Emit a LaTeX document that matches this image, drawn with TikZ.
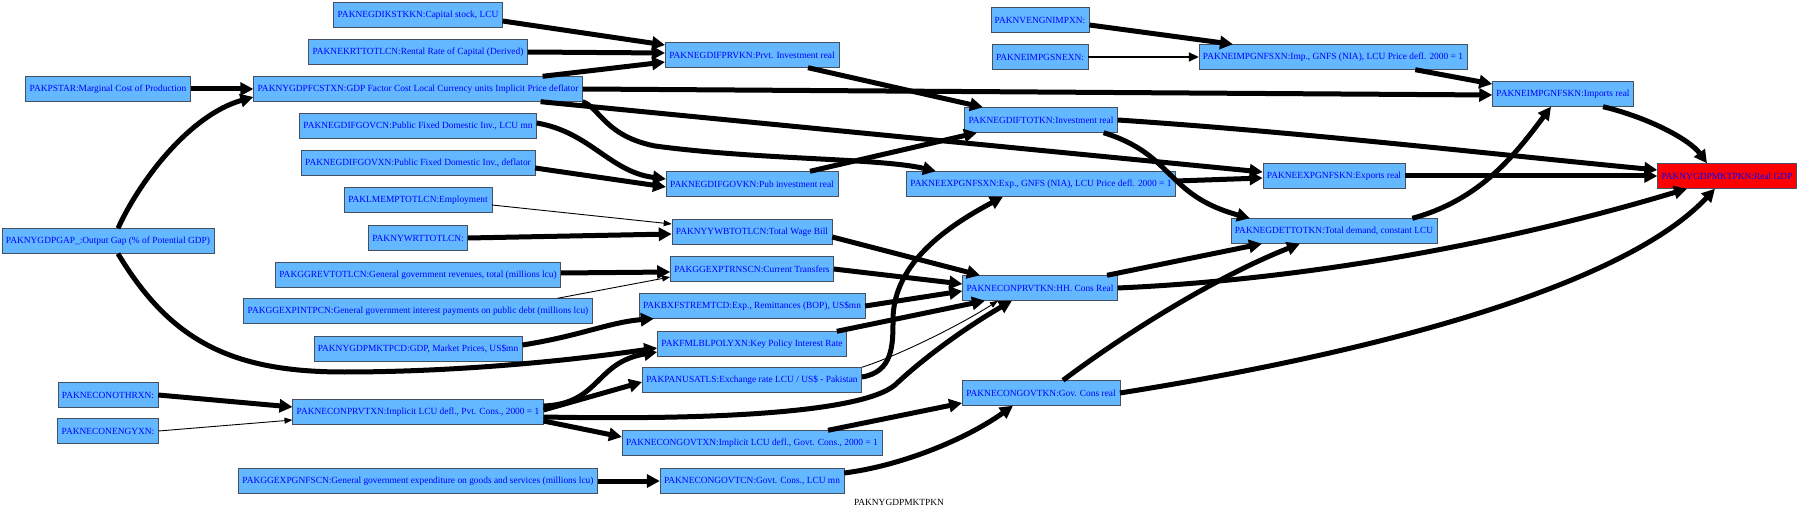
\documentclass[tikz,border=0pt]{standalone}
\usepackage{fontspec}
\setmainfont{Liberation Serif}
\usepackage{tikz}
\usetikzlibrary{arrows.meta,positioning}

\definecolor{boxfill}{RGB}{99,184,255}
\definecolor{boxline}{RGB}{70,80,95}
\definecolor{boxtext}{RGB}{0,0,255}

\begin{document}
\begin{tikzpicture}[
  x=1pt, y=-1pt,
  every node/.style={rectangle, draw=boxline, fill=boxfill, text=boxtext, font=\fontsize{9.4}{11}\selectfont, minimum height=25pt, inner xsep=4pt, inner ysep=2pt},
  wide/.style={line width=5pt, -{Triangle[length=13pt,width=13pt]}},
  mid/.style={line width=2pt, -{Triangle[length=10pt,width=9pt]}},
  slim/.style={line width=0.9pt, -{Triangle[length=8pt,width=6pt]}}
]
\useasboundingbox (0,0) rectangle (1800,513);
\fill[white] (0,0) rectangle (1800,513);

% Rango 1
\node (pstar) at (108,89) {PAKPSTAR:Marginal Cost of Production};
\node (gdpgap) at (108,241) {PAKNYGDPGAP\_:Output Gap (\% of Potential GDP)};
\node (conothrxn) at (108,395) {PAKNECONOTHRXN:};
\node (conengyxn) at (108,431) {PAKNECONENGYXN:};

% Rango 2
\node (gdikstkkn) at (418,15) {PAKNEGDIKSTKKN:Capital stock, LCU};
\node (ekrttotlcn) at (418,52) {PAKNEKRTTOTLCN:Rental Rate of Capital (Derived)};
\node (fcstxn) at (418,89) {PAKNYGDPFCSTXN:GDP Factor Cost Local Currency units Implicit Price deflator};
\node (gdifgovcn) at (418,126) {PAKNEGDIFGOVCN:Public Fixed Domestic Inv., LCU mn};
\node (gdifgovxn) at (418,163) {PAKNEGDIFGOVXN:Public Fixed Domestic Inv., deflator};
\node (lmemptotlcn) at (418,200) {PAKLMEMPTOTLCN:Employment};
\node (nywrttotlcn) at (418,238) {PAKNYWRTTOTLCN:};
\node (ggrevtotlcn) at (418,275) {PAKGGREVTOTLCN:General government revenues, total (millions lcu)};
\node (ggexpintpcn) at (418,311) {PAKGGEXPINTPCN:General government interest payments on public debt (millions lcu)};
\node (gdpmktpcd) at (418,349) {PAKNYGDPMKTPCD:GDP, Market Prices, US\$mn};
\node (conprvtxn) at (418,412) {PAKNECONPRVTXN:Implicit LCU defl., Pvt. Cons., 2000 = 1};
\node (ggexpgnfscn) at (418,481) {PAKGGEXPGNFSCN:General government expenditure on goods and services (millions lcu)};

% Rango 3
\node (gdifprvkn) at (752,55) {PAKNEGDIFPRVKN:Prvt. Investment real};
\node (gdifgovkn) at (752,184) {PAKNEGDIFGOVKN:Pub investment real};
\node (yywbtotlcn) at (752,232) {PAKNYYWBTOTLCN:Total Wage Bill};
\node (ggexptrnscn) at (752,269) {PAKGGEXPTRNSCN:Current Transfers};
\node (bxfstremtcd) at (752,306) {PAKBXFSTREMTCD:Exp., Remittances (BOP), US\$mn};
\node (fmlblpolyxn) at (752,344) {PAKFMLBLPOLYXN:Key Policy Interest Rate};
\node (panusatls) at (752,380) {PAKPANUSATLS:Exchange rate LCU / US\$ - Pakistan};
\node (congovtxn) at (752,443) {PAKNECONGOVTXN:Implicit LCU defl., Govt. Cons., 2000 = 1};
\node (congovtcn) at (752,481) {PAKNECONGOVTCN:Govt. Cons., LCU mn};

% Rango 4
\node (nvengnimpxn) at (1040,20) {PAKNVENGNIMPXN:};
\node (neimpgsnexn) at (1040,57) {PAKNEIMPGSNEXN:};
\node (gdiftotkn) at (1041,120) {PAKNEGDIFTOTKN:Investment real};
\node (eexpgnfsxn) at (1041,184) {PAKNEEXPGNFSXN:Exp., GNFS (NIA), LCU Price defl. 2000 = 1};
\node (conprvtkn) at (1040,288) {PAKNECONPRVTKN:HH. Cons Real};
\node (congovtkn) at (1041,393) {PAKNECONGOVTKN:Gov. Cons real};

% Rango 5
\node (eimpgnfsxn) at (1333,57) {PAKNEIMPGNFSXN:Imp., GNFS (NIA), LCU Price defl. 2000 = 1};
\node (eexpgnfskn) at (1334,176) {PAKNEEXPGNFSKN:Exports real};
\node (gdettotkn) at (1334,231) {PAKNEGDETTOTKN:Total demand, constant LCU};

% Rango 6 y 7
\node (eimpgnfskn) at (1563,94) {PAKNEIMPGNFSKN:Imports real};
\node[fill=red] (gdpmktpkn) at (1727,176) {PAKNYGDPMKTPKN:Real GDP};

% Titulo
\node[draw=none, fill=none, text=black, minimum height=0pt] (titulo) at (899,502) {PAKNYGDPMKTPKN};

% Conexiones - deflactor
\draw[wide] (pstar) -- (fcstxn);
\draw[wide] ([xshift=10pt]gdpgap.north) .. controls (140,180) and (190,115) .. ([yshift=-8pt]fcstxn.west);
\draw[wide] ([xshift=10pt]gdpgap.south) .. controls (170,340) and (230,372) .. (344,372) .. controls (450,372) and (560,362) .. ([yshift=-4pt]fmlblpolyxn.west);

% Conexiones - inversion
\draw[wide] ([yshift=-6pt]gdikstkkn.east) -- ([yshift=10pt]gdifprvkn.west);
\draw[wide] (ekrttotlcn.east) -- ([yshift=2pt]gdifprvkn.west);
\draw[wide] ([xshift=-40pt]fcstxn.north east) -- ([yshift=-7pt]gdifprvkn.west);
\draw[wide] ([yshift=3pt]gdifgovcn.east) .. controls (590,132) and (610,172) .. ([yshift=5pt]gdifgovkn.west);
\draw[wide] ([yshift=-5pt]gdifgovxn.east) -- ([yshift=-3pt]gdifgovkn.west);
\draw[wide] ([xshift=56pt]gdifprvkn.south) -- ([xshift=-58pt]gdiftotkn.north);
\draw[wide] ([xshift=58pt]gdifgovkn.north) -- ([xshift=-64pt]gdiftotkn.south);

% Conexiones - comercio
\draw[wide] (fcstxn.east) -- ([yshift=-1pt]eimpgnfskn.west);
\draw[wide] ([xshift=-42pt]fcstxn.south east) -- ([yshift=4pt]eexpgnfskn.west);
\draw[wide] (fcstxn.south east) .. controls (600,108) and (605,136) .. (655,146) .. controls (760,160) and (880,158) .. ([xshift=-105pt]eexpgnfsxn.north);
\draw[wide] ([yshift=3pt]panusatls.east) .. controls (893,372) and (893,345) .. (893,320) .. controls (893,262) and (950,225) .. ([xshift=-38pt]eexpgnfsxn.south);
\draw[wide] ([yshift=3pt]eexpgnfsxn.east) -- ([yshift=-2pt]eexpgnfskn.west);
\draw[wide] ([yshift=-5pt]nvengnimpxn.east) -- ([xshift=-100pt]eimpgnfsxn.north);
\draw[mid] (neimpgsnexn.east) -- (eimpgnfsxn.west);
\draw[wide] ([xshift=-52pt]eimpgnfsxn.south east) -- ([yshift=10pt]eimpgnfskn.west);

% Conexiones - consumo privado
\draw[slim] ([yshift=-5pt]lmemptotlcn.east) -- ([yshift=8pt]yywbtotlcn.west);
\draw[wide] (nywrttotlcn.east) -- ([yshift=-2pt]yywbtotlcn.west);
\draw[wide] ([yshift=2pt]ggrevtotlcn.east) -- ([yshift=-3pt]ggexptrnscn.west);
\draw[slim] ([xshift=-35pt]ggexpintpcn.north east) -- ([yshift=-8pt]ggexptrnscn.west);
\draw[wide] ([yshift=4pt]gdpmktpcd.east) .. controls (580,336) and (610,322) .. ([xshift=15pt]bxfstremtcd.south west);
\draw[wide] ([yshift=-5pt]yywbtotlcn.east) -- ([xshift=-60pt]conprvtkn.north);
\draw[wide] (ggexptrnscn.east) -- ([yshift=4pt]conprvtkn.west);
\draw[wide] (bxfstremtcd.east) -- ([yshift=-3pt]conprvtkn.west);
\draw[wide] ([xshift=-10pt]fmlblpolyxn.north east) -- ([xshift=-55pt]conprvtkn.south);
\draw[slim] (panusatls.north east) .. controls (900,355) and (960,325) .. ([xshift=-42pt]conprvtkn.south);
\draw[wide] (conothrxn.east) -- ([yshift=5pt]conprvtxn.west);
\draw[slim] (conengyxn.east) -- ([yshift=-8pt]conprvtxn.west);
\draw[wide] ([yshift=6pt]conprvtxn.east) .. controls (600,404) and (595,362) .. ([yshift=-8pt]fmlblpolyxn.west);
\draw[wide] ([yshift=2pt]conprvtxn.east) -- ([yshift=-2pt]panusatls.west);
\draw[wide] ([yshift=-5pt]conprvtxn.east) .. controls (700,420) and (860,414) .. (895,385) .. controls (930,352) and (975,322) .. ([xshift=-28pt]conprvtkn.south);
\draw[wide] ([yshift=-9pt]conprvtxn.east) -- ([yshift=6pt]congovtxn.west);

% Conexiones - consumo publico
\draw[wide] (ggexpgnfscn.east) -- (congovtcn.west);
\draw[wide] ([xshift=76pt]congovtxn.north) -- ([yshift=-10pt]congovtkn.west);
\draw[wide] ([yshift=8pt]congovtcn.east) .. controls (900,466) and (965,440) .. ([xshift=-28pt]congovtkn.south);

% Conexiones - demanda y PIB
\draw[wide] ([xshift=-14pt]gdiftotkn.south east) .. controls (1175,155) and (1165,195) .. ([xshift=-84pt]gdettotkn.north);
\draw[wide] ([xshift=67pt]conprvtkn.north) -- ([xshift=-72pt]gdettotkn.south);
\draw[wide] ([xshift=22pt]congovtkn.north) .. controls (1130,330) and (1220,275) .. ([xshift=-34pt]gdettotkn.south);
\draw[wide] ([xshift=-25pt]gdettotkn.north east) .. controls (1480,200) and (1515,155) .. ([xshift=-12pt]eimpgnfskn.south);
\draw[wide] (gdiftotkn.east) .. controls (1300,132) and (1500,155) .. ([yshift=6pt]gdpmktpkn.west);
\draw[wide] (eexpgnfskn.east) -- (gdpmktpkn.west);
\draw[wide] ([xshift=40pt]eimpgnfskn.south) .. controls (1650,118) and (1690,140) .. ([xshift=-20pt]gdpmktpkn.north);
\draw[wide] (conprvtkn.east) .. controls (1300,280) and (1500,245) .. ([xshift=-40pt]gdpmktpkn.south);
\draw[wide] (congovtkn.east) .. controls (1360,355) and (1620,290) .. ([xshift=-12pt]gdpmktpkn.south);

\end{tikzpicture}
\end{document}
